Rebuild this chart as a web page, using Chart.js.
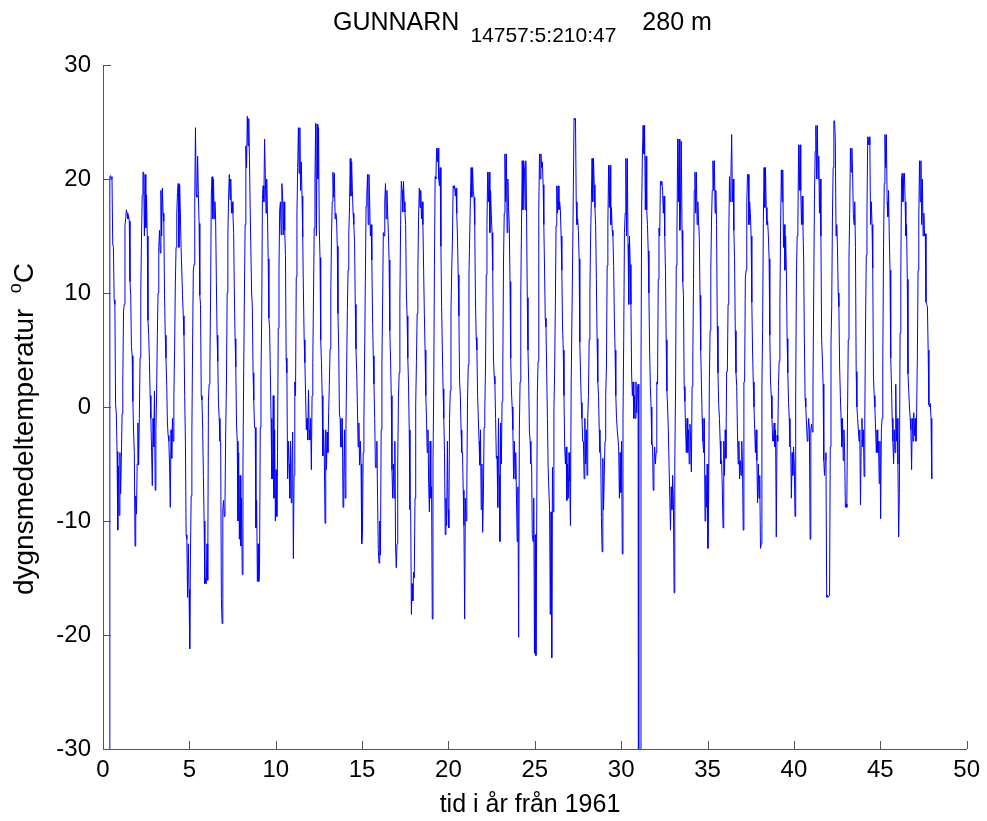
<!DOCTYPE html>
<html>
<head>
<meta charset="utf-8">
<script src="https://cdn.jsdelivr.net/npm/chart.js@4.4.1/dist/chart.umd.min.js"></script>
<style>
  html, body { margin: 0; padding: 0; background: #fff; }
  #wrap { width: 987px; height: 821px; }
</style>
</head>
<body>
<div id="wrap"><canvas id="chart" width="987" height="821"></canvas></div>
<script>
// daily mean temperature, Gunnarn at half-month marks
const titleName = "GUNNARN";
const titleSub = "14757:5:210:47";
const titleTail = "280 m";
const xLabel = "tid i år från 1961";
const yLabel = "dygnsmedeltemperatur";
const yUnitSup = "o";
const yUnit = "C";

const xTicks = [0, 5, 10, 15, 20, 25, 30, 35, 40, 45, 50];
const yTicks = [-30, -20, -10, 0, 10, 20, 30];

// position of each reading inside its year
const halfMonths = [0.021, 0.063, 0.104, 0.146, 0.188, 0.229, 0.271, 0.313, 0.354, 0.396, 0.438, 0.479,
                    0.521, 0.563, 0.604, 0.646, 0.688, 0.729, 0.771, 0.813, 0.854, 0.896, 0.938, 0.979];

const M = -99; // missing value code, plunges off the bottom of the plot

const temps1960s = [
  [null, null, null, null, null, null, null, null, M, 20.2, 20.3, 20.0, 20.2, 14.3, 14.0, 9.4, 9.0, 0.2, -0.6, -3.9, -10.8, -5.2, -9.5, -4.0],
  [-7.6, -4.5, -0.6, 2.0, 8.4, 9.0, 15.9, 16.5, 17.3, 17.0, 16.5, 16.8, 16.3, 11.0, 9.8, 5.3, 4.5, 0.5, -2.2, -4.0, -12.2, -7.8, -9.4, -5.0],
  [-1.4, -5.1, -1.0, 4.3, 10.0, 15.0, 18.6, 20.6, 20.6, 15.0, 20.4, 15.7, 18.6, 15.0, 7.6, 6.3, 4.0, 1.0, -1.0, -3.9, -6.9, -1.0, -3.5, 1.4],
  [-7.3, -2.0, 1.2, 6.3, 10.0, 14.0, 15.5, 13.5, 19.0, 15.0, 19.2, 17.0, 16.3, 9.8, 6.3, 4.3, 2.0, -1.4, -2.5, -3.0, -5.1, -8.8, -2.0, -4.5],
  [-1.0, -3.0, 1.0, 5.0, 10.8, 14.0, 17.0, 18.8, 19.6, 14.0, 19.5, 17.0, 14.0, 14.0, 9.8, 8.0, 6.3, 1.0, -3.0, -11.2, -11.6, -16.7, -12.0, -16.0],
  [-21.2, -13.0, -7.8, -2.2, 5.7, 12.0, 12.5, 18.4, 24.5, 18.6, 18.4, 22.0, 18.6, 16.1, 9.8, 9.0, 1.0, 0.6, -2.0, -6.1, -10.0, -15.5, -15.0, -15.5],
  [-12.0, -15.2, 0.6, 2.0, 3.5, 10.0, 18.6, 20.2, 16.5, 20.0, 16.5, 18.0, 16.5, 11.0, 6.3, 4.0, 0.2, -1.0, -3.0, -3.0, -16.9, -19.0, -9.0, -8.2],
  [-9.6, -8.5, -2.0, 2.0, 10.0, 15.0, 18.4, 20.4, 18.2, 20.0, 17.0, 18.0, 17.0, 15.3, 10.0, 6.0, 3.5, -1.4, -3.0, -10.0, -4.0, -11.6, -6.0, -12.2],
  [-8.0, -14.7, -5.0, 3.3, 10.0, 16.0, 22.9, 21.0, 25.5, 22.9, 25.3, 21.8, 17.3, 17.3, 10.0, 8.8, 3.0, 0.6, -1.8, -1.8, -10.6, -8.2, -15.3, -12.0]
];

const temps1970s = [
  [-15.3, -14.0, -1.8, 2.7, 8.0, 18.2, 19.4, 18.0, 23.5, 20.4, 17.0, 20.0, 17.0, 13.0, 7.8, 6.9, 3.0, -1.0, -6.3, -6.3, 1.0, -8.0, -2.0, -10.0],
  [-5.5, -9.6, -4.0, 6.9, 12.0, 17.3, 18.0, 15.1, 19.6, 18.6, 15.1, 18.0, 15.5, 13.3, 4.3, 3.0, -6.3, -3.0, -5.0, -8.0, -3.0, -8.4, -5.0, -2.2],
  [-13.3, -6.0, 2.2, 1.0, 11.4, 17.0, 21.0, 24.5, 20.5, 24.5, 19.0, 21.5, 18.5, 14.9, 10.0, 5.9, 3.9, 1.0, -2.0, -1.0, -2.9, 1.5, -2.0, -2.9],
  [-1.0, -5.5, 1.0, 3.9, 10.0, 15.7, 20.0, 24.9, 15.0, 24.8, 20.0, 24.5, 15.7, 13.1, 5.9, 4.0, 1.0, -4.3, -2.0, -4.3, -10.2, -2.0, -5.5, -2.2],
  [-4.0, -0.5, 2.0, 5.1, 10.0, 14.9, 18.0, 20.6, 18.4, 20.5, 16.5, 17.0, 16.5, 14.1, 8.2, 5.0, -0.6, -1.0, -3.5, -3.5, -1.0, -8.8, -6.3, -2.0],
  [-8.0, -2.0, 3.0, 8.4, 12.0, 15.1, 17.5, 21.8, 18.5, 21.5, 19.0, 17.0, 16.0, 14.5, 9.0, 5.1, 3.0, 0.0, -3.5, -1.4, -5.1, -3.0, -5.0, -12.0],
  [-11.0, -4.0, -1.0, 4.3, 11.0, 17.6, 18.5, 20.4, 16.0, 20.4, 18.0, 15.0, 16.0, 12.9, 8.0, 4.5, 2.0, -1.0, -5.3, -5.3, -3.0, -8.0, -12.5, -13.7],
  [-10.0, -13.0, -2.0, 3.7, 9.2, 15.3, 15.0, 18.0, 19.6, 16.5, 19.0, 17.0, 15.3, 12.9, 6.7, 4.3, 1.0, -5.5, -8.0, -5.0, -8.0, -3.0, -12.2, -14.1],
  [-12.0, -5.0, 0.8, 3.0, 9.4, 16.0, 19.8, 19.0, 17.1, 19.8, 18.0, 17.1, 16.0, 10.0, 8.0, 4.3, 2.0, -2.0, -9.0, -9.0, -18.2, -15.5, -17.0, -14.5],
  [-15.0, -8.0, 0.2, 4.0, 8.2, 12.0, 16.7, 19.2, 17.5, 19.0, 16.5, 18.0, 16.0, 12.0, 8.2, 5.0, 1.0, -1.0, -4.0, -2.0, -6.7, -9.2, -3.0, -8.0]
];

const temps1980s = [
  [-7.0, -18.6, -5.0, 1.4, 12.4, 20.2, 20.0, 22.7, 21.5, 22.7, 20.0, 19.4, 21.0, 14.1, 8.8, 5.0, 1.6, -1.0, -4.0, -11.2, -8.0, -10.4, -3.0, -9.0],
  [-10.6, -1.0, 1.4, 8.4, 12.0, 14.5, 19.4, 19.2, 19.4, 18.5, 19.2, 17.0, 15.0, 11.6, 8.0, 2.2, 1.0, -2.0, -4.0, -4.0, -7.3, -10.4, -18.6, -8.0],
  [-10.0, -7.3, 0.5, 3.7, 11.6, 15.0, 18.4, 21.0, 18.4, 21.0, 19.0, 18.4, 16.0, 9.4, 6.1, 5.0, 1.0, -1.0, -3.0, -5.1, -2.0, -9.0, -5.0, -11.0],
  [-8.0, -1.8, -0.2, 3.5, 11.6, 16.0, 20.6, 18.0, 20.6, 15.3, 19.0, 17.0, 15.3, 12.0, 4.3, 2.7, 2.0, -1.0, -4.5, -4.3, -8.8, -1.0, -6.0, -11.8],
  [-1.4, -5.0, 0.5, 3.5, 12.9, 17.0, 22.2, 18.0, 22.2, 15.3, 20.0, 17.5, 16.0, 11.0, 4.3, 1.4, 0.0, -2.0, -6.3, -3.0, -6.3, -4.0, -8.0, -11.8],
  [-7.0, -20.2, -2.0, 2.2, 10.0, 16.0, 21.6, 17.3, 21.6, 21.0, 17.3, 21.6, 17.0, 9.6, 5.0, 2.0, -2.2, -3.0, -5.0, -5.0, -11.2, -11.8, -8.0, -21.6],
  [-11.2, -21.8, -11.5, 1.2, 4.0, 17.3, 22.2, 20.0, 22.2, 21.0, 21.5, 19.5, 16.0, 12.0, 7.8, 7.0, 3.0, -1.0, -5.3, -5.3, -9.0, -18.2, -9.2, -22.0],
  [-5.3, -9.2, -0.4, 3.0, 8.8, 15.9, 19.4, 17.0, 19.4, 17.3, 18.0, 17.3, 15.0, 12.0, 7.1, 5.0, 1.0, -3.5, -5.0, -3.5, -8.2, -5.0, -8.0, -4.0],
  [-6.5, -10.4, 2.0, 2.0, 12.9, 19.0, 25.3, 25.2, 25.3, 18.0, 16.0, 16.5, 15.5, 13.0, 5.7, 3.0, 0.4, -1.0, -3.0, -3.0, -6.3, -1.0, -5.0, -2.0],
  [-6.0, -1.0, 1.0, 5.9, 10.0, 14.9, 18.0, 21.8, 18.0, 21.8, 19.5, 17.5, 16.0, 11.2, 6.0, 2.2, 1.0, -2.0, -4.0, -4.0, -9.7, -12.7, -4.5, -9.0]
];

const temps1990s = [
  [-6.0, -3.0, 1.0, 3.5, 12.4, 16.0, 21.2, 17.5, 21.2, 16.0, 17.5, 15.5, 15.0, 12.4, 7.8, 5.0, 1.0, -1.0, -2.0, -2.0, -3.5, -8.0, -4.0, -7.5],
  [-3.0, -12.9, -1.0, 5.9, 15.3, 17.0, 21.8, 15.0, 21.8, 14.3, 9.0, 15.0, 12.5, 9.0, 2.9, 1.0, 2.2, -1.0, 1.0, -1.0, 2.2, -0.5, 1.5, 2.0],
  [M, M, M, 3.5, 17.8, 22.2, 24.7, 22.2, 24.7, 17.3, 22.0, 17.3, 16.0, 13.7, 10.0, 5.0, 1.8, 0.0, -3.3, -3.3, -7.3, -5.1, -3.5, -5.0],
  [-4.0, 2.2, 2.0, 11.2, 15.7, 15.0, 19.8, 19.5, 19.8, 19.0, 17.0, 18.5, 15.0, 12.0, 5.9, 1.4, 0.0, -2.0, -5.1, -5.1, -10.8, -7.0, -9.0, -6.0],
  [-8.0, -16.3, -5.0, 1.5, 12.4, 15.3, 23.5, 18.0, 23.5, 15.5, 18.0, 23.3, 15.5, 11.0, 9.8, 1.8, 0.5, -2.0, -4.0, -1.0, -4.0, -2.0, -5.0, -1.5],
  [-3.0, -5.7, 1.8, 4.3, 11.2, 19.0, 20.6, 17.0, 20.6, 16.0, 18.0, 16.3, 15.0, 9.8, 5.0, 2.0, -1.0, -3.0, -4.0, -1.0, -10.0, -6.0, -8.8, -5.0],
  [-12.4, -8.0, 2.2, 6.7, 12.0, 16.3, 19.0, 21.6, 19.0, 21.6, 17.0, 19.0, 16.0, 7.1, 3.0, 0.2, -1.0, -3.0, -5.0, -4.7, -7.1, -10.6, -3.0, -6.0],
  [-2.0, -4.5, 3.1, 3.1, 9.0, 15.0, 20.2, 18.0, 20.2, 23.9, 18.0, 20.0, 15.5, 13.1, 6.7, 3.0, 1.8, -2.0, -5.0, -3.0, -6.3, -4.7, -6.0, -3.0],
  [-5.0, -10.8, 2.2, 2.2, 11.3, 12.0, 18.0, 20.4, 20.4, 16.0, 18.0, 17.0, 15.0, 9.2, 5.0, 2.2, 0.0, -2.0, -4.0, -2.0, -4.7, -8.4, -5.0, -8.0],
  [-6.0, -12.4, -12.0, 1.8, 6.9, 16.1, 21.0, 17.5, 21.0, 17.5, 16.0, 16.3, 15.0, 13.0, 6.3, 2.2, 1.0, -1.0, -3.0, -3.0, -1.4, -3.5, -2.0, -11.4]
];

const temps2000s = [
  [-2.5, -3.0, 1.8, 4.0, 9.0, 15.7, 20.8, 18.0, 20.8, 14.0, 16.0, 12.0, 15.0, 12.0, 6.0, 3.0, 0.4, -1.0, -3.5, -3.5, -8.0, -4.0, -6.0, -3.5],
  [-5.0, -9.6, 1.6, 11.6, 15.0, 16.0, 23.0, 19.0, 23.0, 19.0, 16.0, 18.5, 16.0, 13.0, 6.0, 0.8, 0.0, -1.5, -3.0, -2.2, -1.0, -2.0, -11.6, -2.0],
  [-1.5, -2.2, 2.0, 10.0, 18.2, 22.4, 24.7, 20.0, 24.7, 20.0, 22.0, 17.0, 20.0, 15.0, 5.9, 4.3, 2.0, -4.7, -6.0, -4.7, -4.0, -16.7, -16.5, -16.7],
  [-16.7, -16.5, -3.5, 5.5, 8.8, 16.5, 21.0, 25.1, 25.1, 23.5, 15.0, 16.0, 14.1, 10.0, 8.8, 3.5, 1.0, -1.0, -3.5, -1.0, -4.7, -2.0, -4.0, -8.8],
  [-8.5, -8.8, -0.5, 5.9, 13.1, 16.9, 22.7, 20.6, 22.7, 20.6, 17.0, 16.0, 18.0, 14.0, 3.1, 0.0, -1.0, -2.0, -3.0, -2.0, -8.6, -3.0, -1.0, -3.5],
  [-2.0, -6.1, -1.0, 7.1, 13.3, 17.0, 23.7, 23.0, 23.7, 23.0, 16.0, 18.0, 16.0, 12.2, 2.7, 1.0, 0.0, -2.0, -4.0, -2.0, -4.0, -3.0, -6.7, -3.0],
  [-9.8, -2.0, -1.0, 4.0, 14.1, 19.6, 23.9, 21.0, 23.9, 18.0, 16.7, 19.0, 15.0, 12.0, 4.3, 2.0, -1.0, -3.0, -5.0, -2.0, -4.0, 2.0, -3.0, -1.0],
  [-5.0, -11.4, -7.6, 6.5, 11.6, 20.0, 20.5, 18.0, 20.0, 20.5, 18.0, 15.0, 16.0, 11.2, 2.9, 1.5, 0.0, -1.0, -2.0, -5.5, -1.0, -3.0, -0.5, -2.5],
  [-1.0, -3.0, -0.5, 4.3, 12.0, 16.5, 21.6, 18.0, 21.6, 16.0, 20.0, 15.0, 17.0, 15.0, 15.2, 9.2, 9.0, 8.8, 5.0, 0.2, 0.0, 0.3, -1.0, -6.3]
];

const FONT = "'Liberation Sans', Arial, Helvetica, sans-serif";
const AXIS = "#555";

// flatten to (years since 1961, temperature)
const rows = [...temps1960s, ...temps1970s, ...temps1980s, ...temps1990s, ...temps2000s];
const points = [];
rows.forEach((row, yr) => {
  row.forEach((v, k) => {
    if (v !== null) points.push({ x: yr + halfMonths[k], y: v });
  });
});

// matlab style: inward ticks, title with subscript, y label with superscript
const matlabDecor = {
  id: "matlabDecor",
  afterDraw(chart) {
    const { ctx, chartArea: a, scales } = chart;
    ctx.save();
    ctx.strokeStyle = AXIS;
    ctx.lineWidth = 1;
    ctx.beginPath();
    xTicks.forEach(v => {
      const px = Math.round(scales.x.getPixelForValue(v)) + 0.5;
      ctx.moveTo(px, a.bottom);
      ctx.lineTo(px, a.bottom - 8);
    });
    yTicks.forEach(v => {
      const py = Math.round(scales.y.getPixelForValue(v)) + 0.5;
      ctx.moveTo(a.left, py);
      ctx.lineTo(a.left + 8, py);
    });
    ctx.stroke();

    ctx.fillStyle = "#000";
    ctx.textAlign = "left";
    ctx.textBaseline = "alphabetic";

    // title
    let tx = 333;
    ctx.font = "25px " + FONT;
    ctx.fillText(titleName, tx, 30);
    tx += ctx.measureText(titleName).width + 11;
    ctx.font = "21px " + FONT;
    ctx.fillText(titleSub, tx, 42);
    tx += ctx.measureText(titleSub).width + 26;
    ctx.font = "25px " + FONT;
    ctx.fillText(titleTail, tx, 30);

    // x label
    ctx.textAlign = "center";
    ctx.fillText(xLabel, 530, 812);

    // y label
    ctx.textAlign = "left";
    ctx.translate(33, 429);
    ctx.rotate(-Math.PI / 2);
    ctx.font = "28px " + FONT;
    const main = yLabel + "  ";
    const wMain = ctx.measureText(main).width;
    const wC = ctx.measureText(yUnit).width;
    ctx.font = "18px " + FONT;
    const wO = ctx.measureText(yUnitSup).width;
    let sx = -(wMain + wO + wC) / 2;
    ctx.font = "28px " + FONT;
    ctx.fillText(main, sx, 0);
    ctx.font = "18px " + FONT;
    ctx.fillText(yUnitSup, sx + wMain, -12);
    ctx.font = "28px " + FONT;
    ctx.fillText(yUnit, sx + wMain + wO, 0);
    ctx.restore();
  }
};

Chart.defaults.font.family = FONT;
Chart.defaults.color = "#000";

const ctx = document.getElementById("chart").getContext("2d");
new Chart(ctx, {
  type: "line",
  data: {
    datasets: [{
      data: points,
      borderColor: "#0000ff",
      borderWidth: 1,
      pointRadius: 0,
      tension: 0,
      clip: 0
    }]
  },
  options: {
    responsive: false,
    animation: false,
    events: [],
    layout: { padding: { left: 0, top: 65, right: 19, bottom: 0 } },
    plugins: {
      legend: { display: false },
      tooltip: { enabled: false },
      title: { display: false }
    },
    scales: {
      x: {
        type: "linear",
        min: 0,
        max: 50,
        afterBuildTicks: s => { s.ticks = xTicks.map(v => ({ value: v })); },
        afterFit: s => { s.height = 72; },
        grid: { drawOnChartArea: false, drawTicks: false },
        border: { color: AXIS, width: 1 },
        ticks: { font: { size: 24 }, color: "#000", padding: 7, maxRotation: 0, autoSkip: false }
      },
      y: {
        type: "linear",
        min: -30,
        max: 30,
        afterBuildTicks: s => { s.ticks = yTicks.map(v => ({ value: v })); },
        afterFit: s => { s.width = 103; },
        grid: { drawOnChartArea: false, drawTicks: false },
        border: { color: AXIS, width: 1 },
        ticks: { font: { size: 24 }, color: "#000", padding: 12 }
      }
    }
  },
  plugins: [matlabDecor]
});
</script>
</body>
</html>
